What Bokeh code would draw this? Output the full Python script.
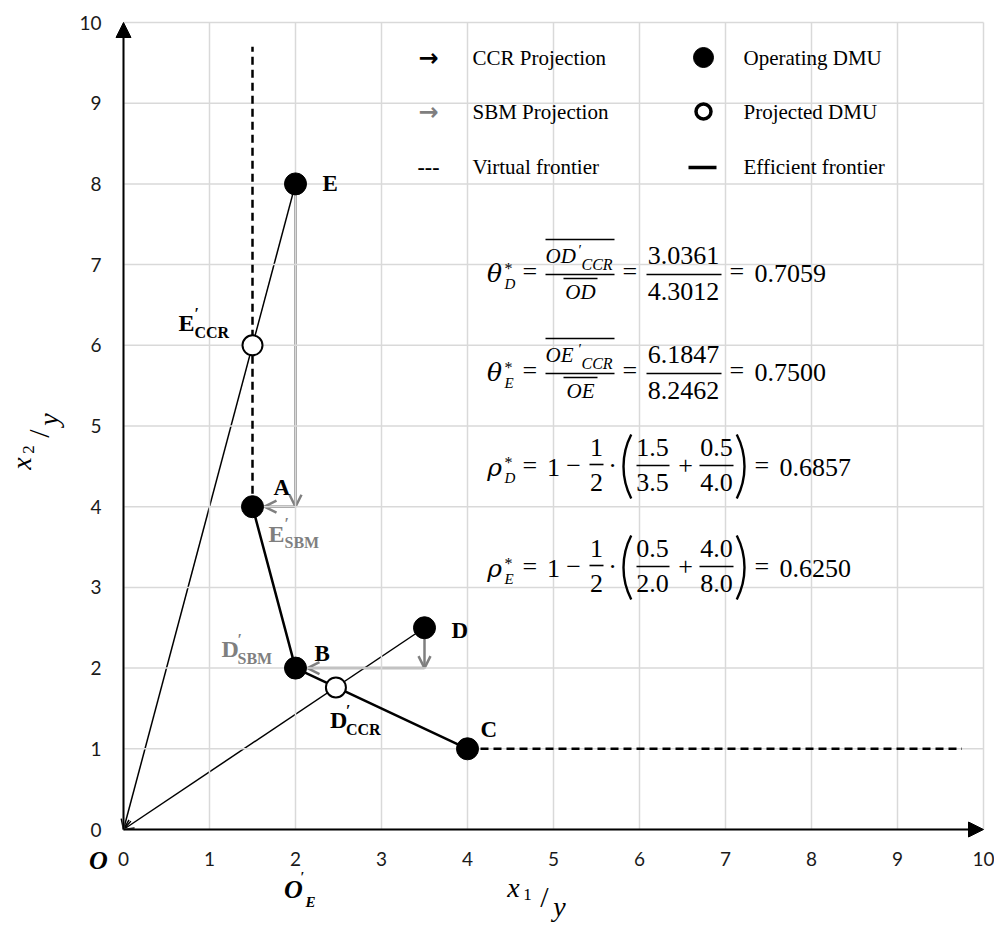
import math
from bokeh.plotting import figure
from bokeh.models import Range1d, Arrow, OpenHead, NormalHead
from bokeh.core.properties import value
from bokeh.embed import file_html
from bokeh.resources import INLINE

# ---------------- data ----------------
dmu_names = ["A", "B", "C", "D", "E"]
dmu_x1 = [1.5, 2.0, 4.0, 3.5, 2.0]
dmu_x2 = [4.0, 2.0, 1.0, 2.5, 8.0]

efficient_x1 = [1.5, 2.0, 4.0]      # A - B - C
efficient_x2 = [4.0, 2.0, 1.0]

virtual_v_x1 = [1.5, 1.5]
virtual_v_x2 = [4.0, 9.7]
virtual_h_x1 = [4.0, 9.75]
virtual_h_x2 = [1.0, 1.0]

ccr_of = ["E", "D"]                 # CCR projections (radial)
ccr_x1 = [1.5, 2.47]
ccr_x2 = [6.0, 1.76]

sbm_of = ["E", "D"]                 # SBM projections (slack moves)
sbm_corner_x1 = [2.0, 3.5]
sbm_corner_x2 = [4.0, 2.0]
sbm_target = ["A", "B"]

axis_ticks = [0, 1, 2, 3, 4, 5, 6, 7, 8, 9, 10]
axis_min, axis_max = 0, 10

theta_D = ["3.0361", "4.3012", "0.7059"]
theta_E = ["6.1847", "8.2462", "0.7500"]
rho_D = ["1.5", "3.5", "0.5", "4.0", "0.6857"]
rho_E = ["0.5", "2.0", "4.0", "8.0", "0.6250"]

legend_left = ["CCR Projection", "SBM Projection", "Virtual frontier"]
legend_right = ["Operating DMU", "Projected DMU", "Efficient frontier"]

# ---------------- layout ----------------
W, H = 994, 931
PLOT_L, PLOT_R = 123, 983      # pixel position of x = 0 and x = 10
PLOT_B, PLOT_T = 829, 22       # pixel position of y = 0 and y = 10
SX = (PLOT_R - PLOT_L) / 10.0
SY = (PLOT_B - PLOT_T) / 10.0

GRAY = "#7f7f7f"
SERIF = "Liberation Serif"


def X(px):
    return (px - PLOT_L) / SX


def Y(py):
    return (PLOT_B - py) / SY


def PX(x):
    return PLOT_L + x * SX


def PY(y):
    return PLOT_B - y * SY


p = figure(width=W, height=H,
           x_range=Range1d(X(0), X(W)), y_range=Range1d(Y(H), Y(0)),
           x_axis_type=None, y_axis_type=None,
           output_backend="svg", toolbar_location=None,
           min_border_left=0, min_border_right=0,
           min_border_top=0, min_border_bottom=0)
p.outline_line_color = None
p.background_fill_color = "white"
p.border_fill_color = "white"
p.grid.visible = False


def txt(px, py, s, size=22, style="normal", color="black", font=SERIF,
        align="left", baseline="middle", angle=0.0):
    p.text(x=[X(px)], y=[Y(py)], text=[s], text_font=value(font),
           text_font_size=f"{size}px", text_font_style=style,
           text_color=color, text_align=align, text_baseline=baseline,
           angle=angle)


def hseg(px0, px1, py, lw=1.6, color="black"):
    p.segment(x0=[X(px0)], y0=[Y(py)], x1=[X(px1)], y1=[Y(py)],
              line_color=color, line_width=lw)


def paren(px_edge, cy, half, left=True):
    R = 70.0
    a = math.asin(half / R)
    if left:
        cx, s, e = px_edge + R, math.pi - a, math.pi + a
    else:
        cx, s, e = px_edge - R, -a, a
    p.arc(x=[X(cx)], y=[Y(cy)], radius=R, radius_units="screen",
          start_angle=s, end_angle=e, line_color="black", line_width=2.4)


# ---------------- grid & tick labels ----------------
n_t = len(axis_ticks)
p.segment(x0=axis_ticks, y0=[axis_min] * n_t, x1=axis_ticks, y1=[axis_max] * n_t,
          line_color="#d9d9d9", line_width=1.5)
p.segment(x0=[axis_min] * n_t, y0=axis_ticks, x1=[axis_max] * n_t, y1=axis_ticks,
          line_color="#d9d9d9", line_width=1.5)
p.text(x=axis_ticks, y=[Y(858)] * n_t, text=[str(t) for t in axis_ticks],
       text_font=value("Lato"), text_font_size="19px", text_color="#1a1a1a",
       text_align="center", text_baseline="middle")
p.text(x=[X(101)] * n_t, y=axis_ticks, text=[str(t) for t in axis_ticks],
       text_font=value("Lato"), text_font_size="19px", text_color="#1a1a1a",
       text_align="right", text_baseline="middle")

pos = {n: (a, b) for n, a, b in zip(dmu_names, dmu_x1, dmu_x2)}

# ---------------- frontiers ----------------
p.line(efficient_x1, efficient_x2, line_color="black", line_width=2.5)
p.line(virtual_v_x1, virtual_v_x2, line_color="black", line_width=2.5,
       line_dash="8 5")
p.line(virtual_h_x1, virtual_h_x2, line_color="black", line_width=2.5,
       line_dash="8 5")

# CCR rays (DMU -> origin)
for n in ccr_of:
    x0, y0 = pos[n]
    p.add_layout(Arrow(end=OpenHead(size=10, line_width=1.5, line_color="black"),
                       x_start=x0, y_start=y0, x_end=0, y_end=0,
                       line_color="black", line_width=1.5, level="underlay"))

# SBM projections
R_MARK = 12.0
for n, cx, cy, t in zip(sbm_of, sbm_corner_x1, sbm_corner_x2, sbm_target):
    x0, y0 = pos[n]
    p.add_layout(Arrow(end=OpenHead(size=12, line_width=2.5, line_color=GRAY),
                       x_start=x0, y_start=y0, x_end=cx, y_end=cy,
                       line_color=GRAY, line_width=2.5, level="underlay"))
    tx, ty = pos[t]
    p.add_layout(Arrow(end=OpenHead(size=12, line_width=2.5, line_color=GRAY),
                       x_start=cx, y_start=cy, x_end=tx + R_MARK / SX, y_end=ty,
                       line_color=GRAY, line_width=2.5, level="underlay"))

# axes with arrows
p.add_layout(Arrow(end=NormalHead(size=15, fill_color="black", line_color="black"),
                   x_start=axis_min, y_start=axis_min, x_end=axis_min, y_end=axis_max,
                   line_color="black", line_width=2))
p.add_layout(Arrow(end=NormalHead(size=15, fill_color="black", line_color="black"),
                   x_start=axis_min, y_start=axis_min, x_end=axis_max, y_end=axis_min,
                   line_color="black", line_width=2))

# markers
p.scatter(dmu_x1, dmu_x2, size=22, fill_color="black", line_color="black")
p.scatter(ccr_x1, ccr_x2, size=20, fill_color="white", line_color="black",
          line_width=2)

# ---------------- point labels ----------------
label_off = {"A": (21, -19), "B": (19, -15), "C": (13, -19),
             "D": (27, 3), "E": (27, 0)}
for n in dmu_names:
    x, y = pos[n]
    dx, dy = label_off[n]
    txt(PX(x) + dx, PY(y) + dy, n, 23, "bold")


def primed(px, py, main, sub, color="black"):
    txt(px, py, main, 24, "bold", color)
    txt(px + 16, py - 10, "′", 16, "bold", color)
    txt(px + 16, py + 9, sub, 16, "bold", color)


ccr_pos = {n: (a, b) for n, a, b in zip(ccr_of, ccr_x1, ccr_x2)}
ex, ey = ccr_pos["E"]
primed(PX(ex) - 74, PY(ey) - 22, "E", "CCR")
dx_, dy_ = ccr_pos["D"]
primed(PX(dx_) - 6, PY(dy_) + 33, "D", "CCR")
ax_, ay_ = pos["A"]
primed(PX(ax_) + 16, PY(ay_) + 27, "E", "SBM", GRAY)
bx_, by_ = pos["B"]
primed(PX(bx_) - 74, PY(by_) - 19, "D", "SBM", GRAY)

# ---------------- legend ----------------
rows = [57, 111, 166]
txt(428, rows[0], "→", 24, "bold", "black", "DejaVu Sans", "center")
txt(428, rows[1], "→", 24, "bold", GRAY, "DejaVu Sans", "center")
txt(428, rows[2], "---", 22, "bold", "black", SERIF, "center")
p.scatter(x=[X(703)], y=[Y(rows[0])], size=20, fill_color="black",
          line_color="black")
p.scatter(x=[X(703)], y=[Y(rows[1])], size=15, fill_color="white",
          line_color="black", line_width=3.5)
hseg(688, 716, rows[2] + 1, lw=3.5)
for r, s in zip(rows, legend_left):
    txt(472, r, s, 21)
for r, s in zip(rows, legend_right):
    txt(743, r, s, 21)

# ---------------- formulas ----------------
GREEK = "DejaVu Serif"


def lead(cy, sym, sub):
    txt(494, cy, sym, 25, "italic", font=GREEK, align="center")
    txt(504, cy - 5, "*", 16)
    txt(504, cy + 10, sub, 15, "italic")
    txt(522, cy - 2, "=", 26)


def theta_row(cy, sub, nums):
    lead(cy, "θ", sub)
    txt(545, cy - 18, "O" + sub, 21, "italic")
    txt(578, cy - 24, "′", 15)
    txt(581, cy - 9, "CCR", 16, "italic")
    hseg(545, 614, cy - 34, lw=1.5)
    hseg(545, 614, cy + 1)
    txt(580, cy + 18, "O" + sub, 21, "italic", align="center")
    hseg(563, 597, cy + 5, lw=1.5)
    txt(622, cy - 2, "=", 26)
    txt(683, cy - 18, nums[0], 26, align="center")
    hseg(646, 721, cy + 1)
    txt(683, cy + 18, nums[1], 26, align="center")
    txt(729, cy - 2, "=", 26)
    txt(754, cy, nums[2], 26)


def rho_row(cy, sub, nums):
    lead(cy, "ρ", sub)
    txt(553, cy, "1", 26, align="center")
    txt(573, cy - 2, "−", 26, align="center")
    txt(596, cy - 20, "1", 26, align="center")
    hseg(589, 603, cy - 3)
    txt(596, cy + 15, "2", 26, align="center")
    txt(612, cy - 2, "·", 26, align="center")
    paren(623, cy - 1, 32, True)
    txt(652, cy - 20, nums[0], 26, align="center")
    hseg(636, 669, cy - 2)
    txt(652, cy + 15, nums[1], 26, align="center")
    txt(685, cy - 2, "+", 26, align="center")
    txt(716, cy - 20, nums[2], 26, align="center")
    hseg(699, 733, cy - 2)
    txt(716, cy + 15, nums[3], 26, align="center")
    paren(744, cy - 1, 32, False)
    txt(754, cy - 2, "=", 26)
    txt(779, cy, nums[4], 26)


theta_row(273, "D", theta_D)
theta_row(372, "E", theta_E)
rho_row(467, "D", rho_D)
rho_row(568, "E", rho_E)

# ---------------- labels outside the axes ----------------
txt(98, 860, "O", 26, "bold italic", align="center")
txt(293, 889, "O", 26, "bold italic", align="center")
txt(302, 877, "′", 14, "bold", align="center")
txt(310, 901, "E", 15, "bold italic", align="center")

# x-axis title  x1 / y
txt(513, 887, "x", 28, "italic", align="center")
txt(527, 894, "1", 17, align="center")
txt(544, 896, "/", 30, align="center")
txt(559, 906, "y", 28, "italic", align="center")

# y-axis title  x2 / y  (rotated)
ROT = math.pi / 2
txt(21, 463, "x", 28, "italic", align="center", angle=ROT)
txt(28, 449, "2", 17, align="center", angle=ROT)
txt(38, 433, "/", 30, align="center", angle=ROT)
txt(48, 419, "y", 28, "italic", align="center", angle=ROT)

open("out.html", "w").write(file_html(p, INLINE))
